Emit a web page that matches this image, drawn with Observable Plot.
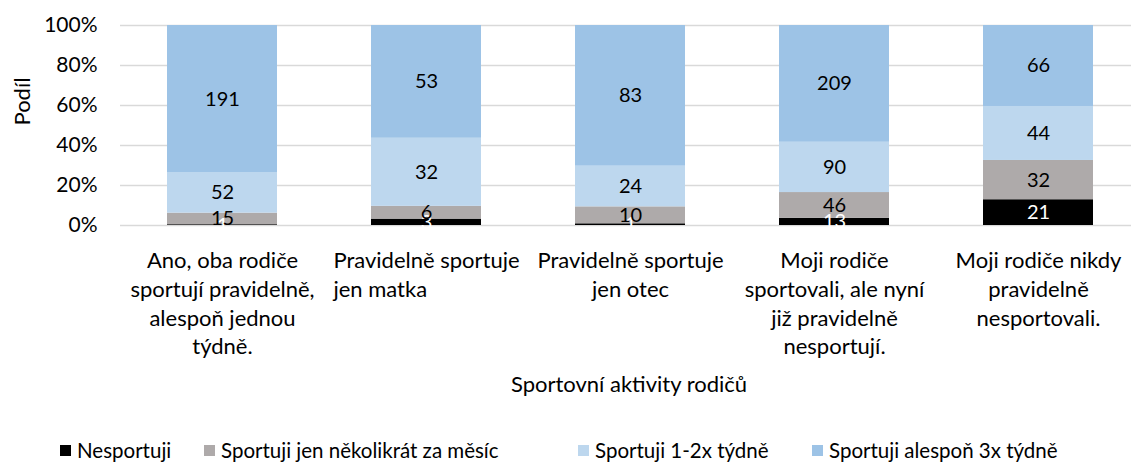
<!DOCTYPE html>
<html>
<head>
<meta charset="utf-8">
<script src="https://cdn.jsdelivr.net/npm/d3@7"></script>
<script src="https://cdn.jsdelivr.net/npm/@observablehq/plot@0.6"></script>
<style>
  body { margin: 0; background: #fff; font-family: Lato, "Open Sans", sans-serif; }
  #legend { position: relative; height: 24px; margin-top: 22px; font-size: 20.5px; color: #000; }
  #legend .item { position: absolute; top: 0; display: flex; align-items: center; height: 24px; white-space: nowrap; }
  #legend .sw { width: 11px; height: 11px; margin-right: 6px; }
</style>
</head>
<body>
<div id="chart"></div>
<script>
const categories = [
  "Ano, oba rodiče\nsportují pravidelně,\nalespoň jednou\ntýdně.",
  "Pravidelně sportuje\njen matka",
  "Pravidelně sportuje\njen otec",
  "Moji rodiče\nsportovali, ale nyní\njiž pravidelně\nnesportují.",
  "Moji rodiče nikdy\npravidelně\nnesportovali."
];
const seriesNames = ["Nesportuji", "Sportuji jen několikrát za měsíc", "Sportuji 1-2x týdně", "Sportuji alespoň 3x týdně"];
const seriesColors = ["#000000", "#AEAAAA", "#BDD7EE", "#9DC3E6"];
const nesportuji = [1, 3, 1, 13, 21];
const nekolikratMesic = [15, 6, 10, 46, 32];
const tydne12 = [52, 32, 24, 90, 44];
const tydne3 = [191, 53, 83, 209, 66];
const yTicks = [0, 0.2, 0.4, 0.6, 0.8, 1];
const xTitle = "Sportovní aktivity rodičů";
const yTitle = "Podíl";
const leftAlignedCategory = categories[1];

const seriesValues = [nesportuji, nekolikratMesic, tydne12, tydne3];
const data = [];
categories.forEach((c, i) => {
  seriesNames.forEach((s, j) => data.push({cat: c, series: s, value: seriesValues[j][i]}));
});

const font = "Lato, 'Open Sans', sans-serif";
const tickFs = 22;

const ctx = document.createElement("canvas").getContext("2d");
ctx.font = `${tickFs}px ${font}`;
const firstLineW = ctx.measureText(leftAlignedCategory.split("\n")[0]).width;

const centered = categories.filter(c => c !== leftAlignedCategory);

const chart = Plot.plot({
  width: 1131,
  height: 416,
  marginLeft: 120,
  marginRight: 0,
  marginTop: 25,
  marginBottom: 191,
  style: {fontFamily: font, fontSize: "20px", color: "#000", background: "#fff"},
  x: {domain: categories, range: [120, 1140], paddingInner: 0.46, paddingOuter: 0.23, axis: null},
  y: {domain: [0, 1], axis: null},
  color: {domain: seriesNames, range: seriesColors},
  marks: [
    Plot.ruleY(yTicks, {stroke: "#D9D9D9", strokeWidth: 1.5}),
    Plot.barY(data, Plot.stackY({offset: "normalize", order: seriesNames, x: "cat", y: "value", fill: "series"})),
    Plot.text(data, Plot.stackY({offset: "normalize", order: seriesNames, x: "cat", y: "value", z: "series", text: d => String(d.value), fill: d => d.series === seriesNames[0] ? "#fff" : "#000", fontSize: 20})),
    Plot.text(yTicks, {y: d => d, frameAnchor: "left", dx: -23, textAnchor: "end", text: d => Math.round(d * 100) + "%", fontSize: 21}),
    Plot.text(centered, {x: d => d, frameAnchor: "bottom", dy: 22, lineAnchor: "top", lineHeight: 1.31, text: d => d, fontSize: tickFs}),
    Plot.text([leftAlignedCategory], {x: d => d, frameAnchor: "bottom", dy: 22, dx: -firstLineW / 2, textAnchor: "start", lineAnchor: "top", lineHeight: 1.31, text: d => d, fontSize: tickFs}),
    Plot.text([xTitle], {frameAnchor: "bottom", dx: 3, dy: 166, text: d => d, fontSize: 22}),
    Plot.text([yTitle], {frameAnchor: "left", dx: -98, rotate: -90, text: d => d, fontSize: 22})
  ]
});
document.getElementById("chart").appendChild(chart);

const legendX = [60, 204, 578, 812];
const legend = document.createElement("div");
legend.id = "legend";
seriesNames.forEach((s, i) => {
  const item = document.createElement("div");
  item.className = "item";
  item.style.left = legendX[i] + "px";
  const sw = document.createElement("span");
  sw.className = "sw";
  sw.style.background = seriesColors[i];
  const t = document.createElement("span");
  t.textContent = s;
  item.appendChild(sw);
  item.appendChild(t);
  legend.appendChild(item);
});
document.body.appendChild(legend);
</script>
</body>
</html>
